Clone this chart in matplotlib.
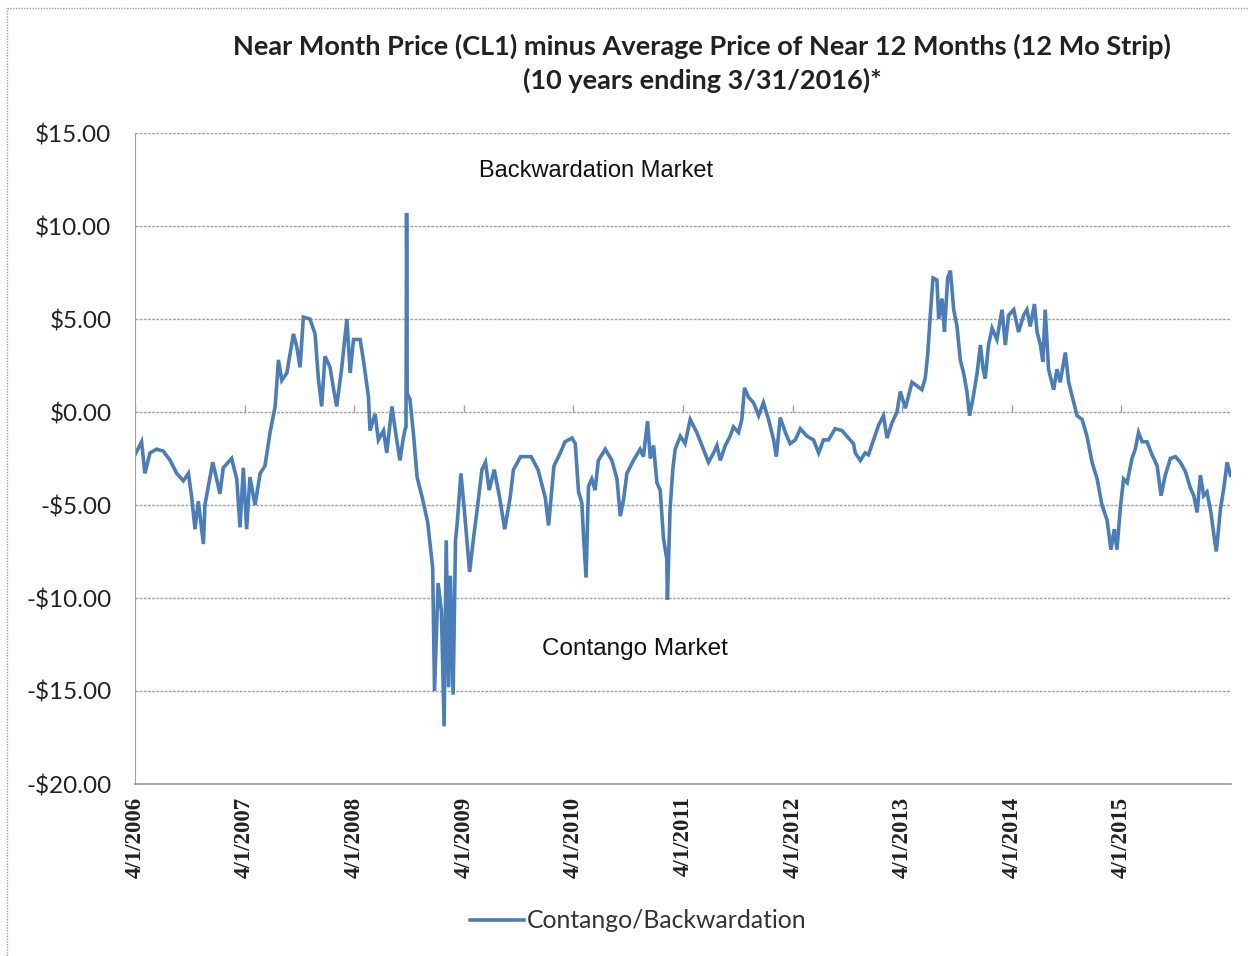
import matplotlib
matplotlib.use("Agg")
import matplotlib.pyplot as plt
from matplotlib.lines import Line2D
from matplotlib.ticker import FuncFormatter
import numpy as np
import pandas as pd

# series starts 4/1/2006; offsets are days
START = pd.Timestamp("2006-04-01")

days_2006_08 = [0, 22, 33, 50, 72, 94, 117, 139, 161, 178, 189, 200, 211, 228, 233, 250, 259, 272,
                283, 294, 322, 339, 350, 361, 372, 383, 400, 417, 433, 450, 467, 478, 489, 506,
                528, 539, 550, 561, 583, 600, 611, 622, 633, 650, 661, 672, 689, 706, 717, 728,
                750, 761, 778, 783, 800, 811, 828, 839, 856, 872, 883, 894]
vals_2006_08 = [-2.3, -1.6, -3.3, -2.2, -2.0, -2.1, -2.6, -3.3, -3.7, -3.3, -4.6, -6.3, -4.8, -7.1,
                -5.0, -3.5, -2.7, -3.6, -4.4, -3.0, -2.5, -3.6, -6.2, -3.0, -6.3, -3.5, -5.0, -3.3,
                -2.9, -1.1, 0.3, 2.8, 1.7, 2.1, 4.2, 3.5, 2.4, 5.1, 5.0, 4.2, 1.8, 0.3, 3.0, 2.4,
                1.3, 0.3, 2.4, 5.0, 2.1, 3.9, 3.9, 2.8, 0.8, -1.0, -0.1, -1.5, -1.0, -2.2, 0.3,
                -1.5, -2.6, -1.4]

days_2008_10 = [899, 903, 905, 907, 916, 928, 940, 957, 975, 992, 998, 1010, 1021, 1030, 1037,
                1045, 1051, 1060, 1068, 1074, 1086, 1098, 1115, 1127, 1139, 1156, 1168, 1180,
                1197, 1215, 1232, 1250, 1261, 1285, 1320, 1343, 1367, 1378, 1396]
vals_2008_10 = [-1.0, -0.8, 10.7, 1.0, 0.7, -1.2, -3.5, -4.6, -5.9, -8.4, -15.0, -9.2, -10.7,
                -16.9, -6.9, -14.8, -8.8, -15.2, -6.9, -5.9, -3.3, -5.4, -8.6, -6.9, -5.4, -3.1,
                -2.7, -4.2, -3.1, -4.6, -6.3, -4.6, -3.1, -2.4, -2.4, -3.1, -4.6, -6.1, -2.9]

days_2010_12 = [1417, 1433, 1456, 1467, 1478, 1489, 1494, 1503, 1511, 1522, 1533, 1544, 1567,
                1589, 1606, 1617, 1628, 1639, 1661, 1683, 1694, 1708, 1717, 1728, 1739, 1750,
                1761, 1772, 1774, 1783, 1792, 1800, 1817, 1833, 1850, 1872, 1894, 1911, 1928,
                1939, 1950, 1967, 1983, 1994, 2011, 2022, 2031, 2044, 2061, 2078, 2094, 2111,
                2128, 2137, 2150, 2167, 2183, 2200, 2217, 2239, 2261, 2278, 2294, 2311, 2333,
                2356, 2372, 2394]
vals_2010_12 = [-2.2, -1.6, -1.4, -1.7, -4.3, -4.9, -6.5, -8.9, -4.0, -3.6, -4.2, -2.6, -2.0,
                -2.6, -3.6, -5.6, -4.7, -3.3, -2.6, -2.0, -2.4, -0.5, -2.5, -1.8, -3.8, -4.2,
                -6.8, -7.9, -10.1, -5.2, -3.1, -2.0, -1.3, -1.7, -0.4, -1.1, -2.0, -2.7, -2.2,
                -1.8, -2.6, -1.8, -1.3, -0.8, -1.1, -0.4, 1.3, 0.8, 0.5, -0.2, 0.5, -0.4, -1.5,
                -2.4, -0.3, -1.1, -1.7, -1.5, -0.9, -1.3, -1.5, -2.2, -1.5, -1.5, -0.9, -1.0,
                -1.3, -1.7]

days_2012_16 = [2400, 2417, 2433, 2444, 2461, 2478, 2494, 2506, 2522, 2539, 2550, 2567, 2578,
                2589, 2606, 2622, 2633, 2641, 2650, 2659, 2672, 2678, 2689, 2697, 2708, 2717,
                2728, 2739, 2750, 2761, 2772, 2781, 2794, 2806, 2817, 2826, 2833, 2844, 2856,
                2872, 2889, 2900, 2911, 2928, 2944, 2961, 2972, 2983, 2997, 3006, 3017, 3025,
                3033, 3044, 3061, 3072, 3083, 3100, 3111, 3122, 3139, 3156, 3172, 3189, 3206,
                3222, 3239, 3252, 3263, 3272, 3283, 3294, 3306, 3322, 3333, 3344, 3356, 3372,
                3389, 3406, 3419, 3433, 3450, 3467, 3483, 3500, 3517, 3528, 3539, 3550, 3561,
                3572, 3585, 3594, 3603, 3617, 3628, 3639, 3650]
vals_2012_16 = [-2.2, -2.6, -2.2, -2.3, -1.5, -0.7, -0.2, -1.4, -0.6, 0.0, 1.1, 0.2, 0.9, 1.6,
                1.4, 1.2, 1.8, 3.0, 5.2, 7.2, 7.1, 5.0, 6.1, 4.3, 7.2, 7.6, 5.5, 4.6, 2.8, 2.1,
                1.1, -0.2, 0.9, 2.1, 3.6, 2.3, 1.8, 3.6, 4.5, 3.9, 5.5, 3.6, 5.2, 5.5, 4.3, 5.2,
                5.5, 4.6, 5.8, 4.3, 3.6, 2.7, 5.5, 2.3, 1.2, 2.3, 1.6, 3.2, 1.6, 0.9, -0.2, -0.4,
                -1.3, -2.7, -3.6, -5.0, -5.8, -7.4, -6.3, -7.4, -5.2, -3.6, -3.8, -2.5, -2.0,
                -1.1, -1.6, -1.6, -2.3, -2.9, -4.5, -3.4, -2.5, -2.4, -2.7, -3.2, -4.1, -4.5,
                -5.4, -3.4, -4.5, -4.3, -5.4, -6.5, -7.5, -5.2, -4.1, -2.7, -3.4]

tick_years = list(range(2006, 2016))
y_ticks = [-20, -15, -10, -5, 0, 5, 10, 15]

days = days_2006_08 + days_2008_10 + days_2010_12 + days_2012_16
vals = vals_2006_08 + vals_2008_10 + vals_2010_12 + vals_2012_16
dates = START + pd.to_timedelta(days, unit="D")

LINE_BLUE = "#4a7ebb"
GRID_GRAY = "#a0a0a0"
TEXT = "#222222"

fig = plt.figure(figsize=(12.48, 9.56), dpi=100)
ax = fig.add_axes([135 / 1248, 1 - 784 / 956, (1231 - 135) / 1248, (784 - 133) / 956])

ax.plot(dates, vals, color=LINE_BLUE, linewidth=2.6, solid_joinstyle="miter",
        label="Contango/Backwardation")

ax.set_xlim(START, pd.Timestamp("2016-03-31"))
ax.set_ylim(-20, 15)
ax.set_yticks(y_ticks)
ax.yaxis.set_major_formatter(FuncFormatter(lambda v, p: f"${v:.2f}" if v >= 0 else f"-${-v:.2f}"))

tick_dates = [pd.Timestamp(f"{y}-04-01") for y in tick_years]
ax.set_xticks(tick_dates)
ax.set_xticklabels([f"{d.month}/{d.day}/{d.year}" for d in tick_dates], rotation=90,
                   fontfamily="Liberation Serif", fontweight="bold", fontsize=16.5, color=TEXT)
ax.tick_params(axis="x", length=0, pad=9)
ax.tick_params(axis="y", length=0, pad=17, labelsize=17.5, labelcolor=TEXT)
for lab in ax.get_yticklabels():
    lab.set_fontfamily("Lato")

# small category ticks sitting on the zero line, like the Excel original
ax.plot(tick_dates, np.zeros(len(tick_dates)), linestyle="none", marker=2, markersize=5,
        color=GRID_GRAY, markeredgewidth=1)

ax.yaxis.grid(True, color=GRID_GRAY, linestyle=(0, (2, 1)), linewidth=1.0)
ax.set_axisbelow(True)
for side in ["top", "right"]:
    ax.spines[side].set_visible(False)
for side in ["left", "bottom"]:
    ax.spines[side].set_color(GRID_GRAY)
    ax.spines[side].set_linestyle((0, (2, 1)))
ax.spines["bottom"].set_linewidth(1.3)

fig.text(702 / 1248, 1 - 46 / 956,
         "Near Month Price (CL1) minus Average Price of Near 12 Months (12 Mo Strip)",
         ha="center", va="center", fontsize=19.5, fontweight="bold", fontfamily="Lato",
         color=TEXT)
fig.text(702 / 1248, 1 - 80 / 956, "(10 years ending 3/31/2016)*",
         ha="center", va="center", fontsize=19.5, fontweight="bold", fontfamily="Lato",
         color=TEXT)

fig.text(596 / 1248, 1 - 171 / 956, "Backwardation Market", ha="center", va="center",
         fontsize=17, fontfamily="Liberation Sans", color="#111111")
fig.text(635 / 1248, 1 - 649 / 956, "Contango Market", ha="center", va="center",
         fontsize=17.5, fontfamily="Liberation Sans", color="#111111")

fig.legend(loc="center", bbox_to_anchor=(638 / 1248, 1 - 921 / 956), frameon=False,
           prop={"family": "Lato", "size": 17.8}, handlelength=2.2, handletextpad=0.12,
           labelcolor="#333333")

# dotted frame of the chart area (left and top edges visible in the crop)
fig.add_artist(Line2D([7 / 1248, 7 / 1248], [0, 1 - 8 / 956], transform=fig.transFigure,
                      color=GRID_GRAY, linestyle=(0, (1, 1)), linewidth=1))
fig.add_artist(Line2D([7 / 1248, 1], [1 - 8 / 956, 1 - 8 / 956], transform=fig.transFigure,
                      color=GRID_GRAY, linestyle=(0, (1, 1)), linewidth=1))

fig.savefig("out.png", dpi=100)
